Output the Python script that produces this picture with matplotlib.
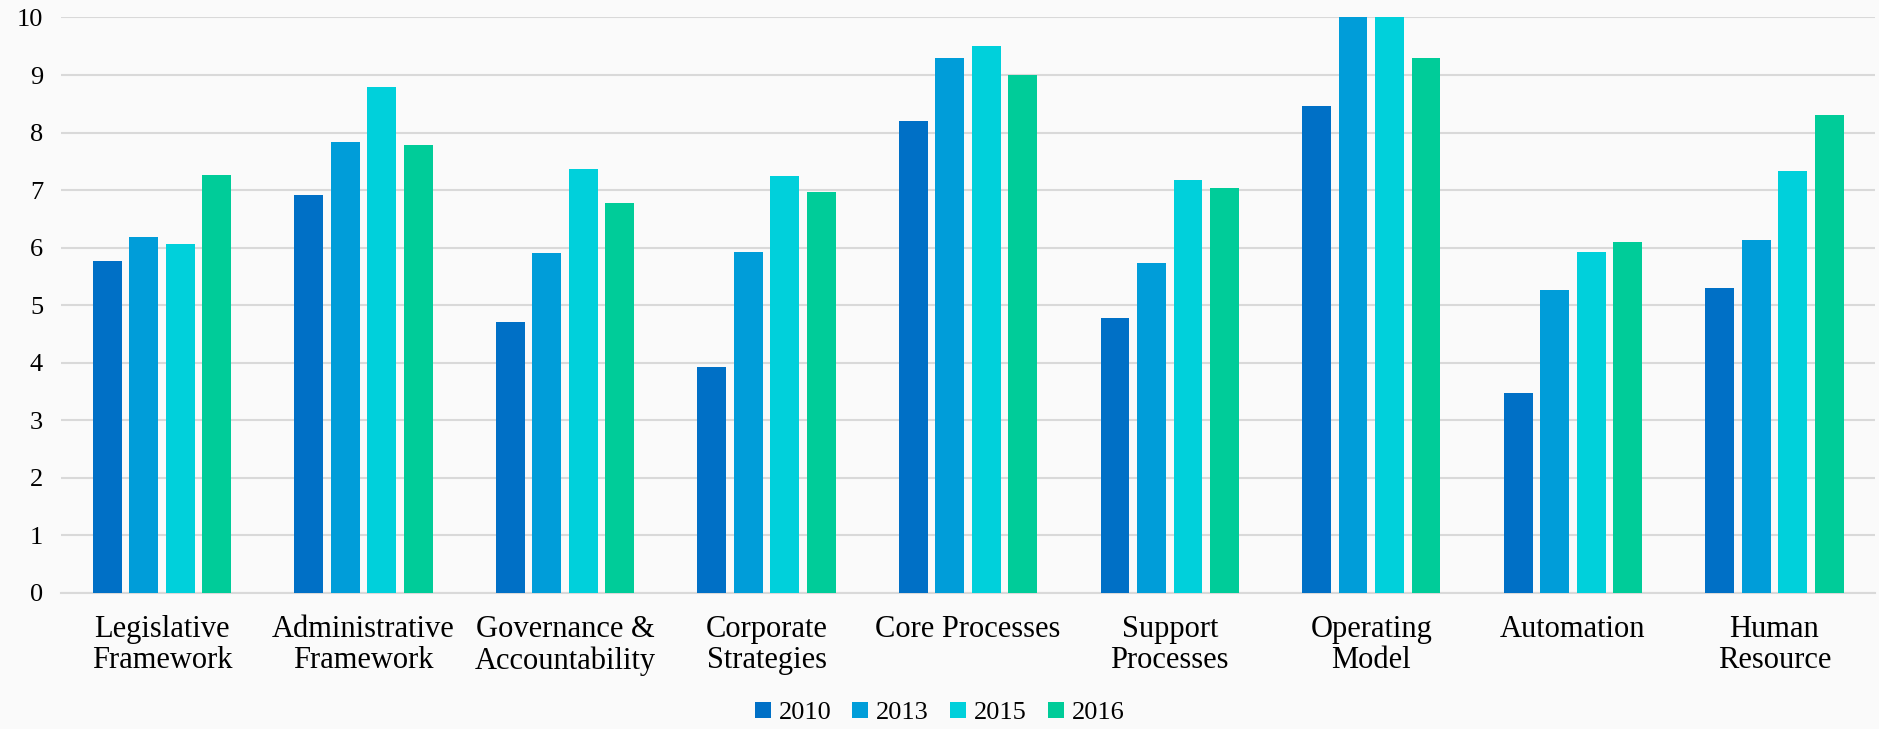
import numpy as np
import matplotlib
matplotlib.use("Agg")
import matplotlib.pyplot as plt

# categories and yearly scores
categories = ["Legislative\nFramework", "Administrative\nFramework",
              "Governance &\nAccountability", "Corporate\nStrategies",
              "Core Processes", "Support\nProcesses", "Operating\nModel",
              "Automation", "Human\nResource"]
years = ["2010", "2013", "2015", "2016"]
v2010 = [5.77, 6.92, 4.70, 3.93, 8.20, 4.77, 8.46, 3.47, 5.30]
v2013 = [6.19, 7.83, 5.90, 5.93, 9.30, 5.73, 10.0, 5.27, 6.13]
v2015 = [6.07, 8.79, 7.37, 7.25, 9.50, 7.17, 10.0, 5.92, 7.33]
v2016 = [7.27, 7.79, 6.78, 6.97, 9.00, 7.03, 9.29, 6.10, 8.31]
yticks = list(range(0, 11))

colors = ["#0070C6", "#009DD9", "#00D0DB", "#00CC99"]
series = [v2010, v2013, v2015, v2016]

plt.rcParams['font.family'] = ['Liberation Serif', 'DejaVu Serif']

fig = plt.figure(figsize=(18.79, 7.29), dpi=100)
fig.patch.set_facecolor("#fafafa")
ax = fig.add_axes([0.0325, 0.1866, 0.9655, 0.7894])
ax.set_facecolor("#fafafa")

x = np.arange(len(categories))
width = 0.143
step = 0.181
for i, (vals, c, yr) in enumerate(zip(series, colors, years)):
    ax.bar(x + (i - 1.5) * step, vals, width, color=c, label=yr, zorder=3)

ax.set_xlim(-0.5, len(categories) - 0.5)
ax.set_ylim(0, 10)
ax.set_yticks(yticks)
ax.set_yticklabels([str(t) for t in yticks], fontsize=19)
ax.set_xticks(x)
ax.set_xticklabels(categories, fontsize=22, linespacing=1.1)
ax.tick_params(axis='both', length=0)
ax.tick_params(axis='y', pad=13)
ax.tick_params(axis='x', pad=16)
ax.yaxis.grid(True, color="#d9d9d9", linewidth=1.5, zorder=0)
ax.set_axisbelow(True)
for s in ["top", "right", "left"]:
    ax.spines[s].set_visible(False)
ax.spines["bottom"].set_color("#d9d9d9")
ax.spines["bottom"].set_linewidth(1.5)

fig.legend(loc="center", bbox_to_anchor=(0.5, 0.022), ncol=4,
           frameon=False, fontsize=19, handlelength=0.6, handleheight=0.6,
           handletextpad=0.3, columnspacing=0.8)

fig.savefig("out.png", dpi=100, facecolor=fig.get_facecolor())
